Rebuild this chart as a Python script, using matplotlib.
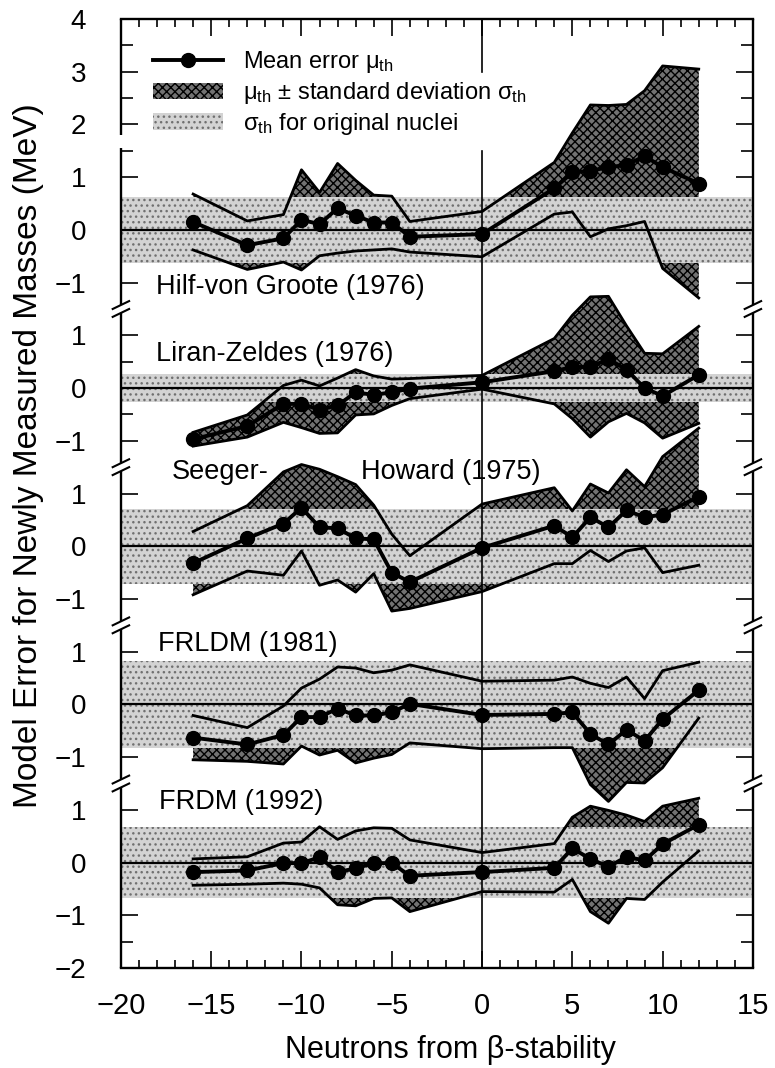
# Model error for newly measured masses, five mass models stacked on one axis
import numpy as np
import matplotlib.pyplot as plt
from matplotlib.lines import Line2D
from matplotlib.patches import Patch

plt.rcParams['font.family'] = ['Liberation Sans', 'DejaVu Sans']
plt.rcParams['mathtext.fontset'] = 'custom'
plt.rcParams['mathtext.rm'] = 'Liberation Sans'
plt.rcParams['mathtext.it'] = 'Liberation Sans:italic'
plt.rcParams['hatch.linewidth'] = 1.0

# Data
neutrons = [-16, -13, -11, -10, -9, -8, -7, -6, -5, -4, 0, 4, 5, 6, 7, 8, 9, 10, 12]

hilf_mu = [0.15, -0.29, -0.16, 0.19, 0.11, 0.41, 0.27, 0.14, 0.14, -0.13, -0.08,
           0.79, 1.09, 1.12, 1.19, 1.23, 1.40, 1.19, 0.88]
hilf_sigma = [0.53, 0.46, 0.45, 0.95, 0.60, 0.85, 0.67, 0.52, 0.50, 0.29, 0.43,
              0.49, 0.75, 1.25, 1.17, 1.15, 1.24, 1.92, 2.17]
hilf_orig = 0.63

liran_mu = [-0.97, -0.72, -0.30, -0.30, -0.41, -0.33, -0.08, -0.13, -0.08, -0.01, 0.11,
            0.32, 0.40, 0.40, 0.55, 0.35, 0.00, -0.15, 0.25]
liran_sigma = [0.13, 0.21, 0.35, 0.45, 0.45, 0.52, 0.43, 0.36, 0.25, 0.19, 0.13,
               0.62, 0.98, 1.33, 1.19, 0.83, 0.66, 0.80, 0.92]
liran_orig = 0.26

seeger_mu = [-0.32, 0.15, 0.43, 0.73, 0.36, 0.34, 0.15, 0.13, -0.50, -0.68, -0.03,
             0.39, 0.17, 0.55, 0.36, 0.68, 0.55, 0.60, 0.94]
seeger_sigma = [0.60, 0.62, 0.98, 0.82, 1.10, 0.98, 1.02, 0.65, 0.73, 0.50, 0.83,
                0.72, 0.50, 0.63, 0.65, 0.77, 0.58, 1.10, 1.30]
seeger_orig = 0.71

frldm_mu = [-0.63, -0.76, -0.58, -0.24, -0.24, -0.08, -0.21, -0.21, -0.15, 0.01, -0.20,
            -0.18, -0.15, -0.56, -0.76, -0.48, -0.69, -0.28, 0.27]
frldm_sigma = [0.42, 0.32, 0.55, 0.55, 0.72, 0.79, 0.90, 0.81, 0.80, 0.74, 0.64,
               0.64, 0.67, 0.96, 1.08, 1.00, 0.80, 0.92, 0.53]
frldm_orig = 0.82

frdm_mu = [-0.18, -0.15, -0.01, -0.01, 0.10, -0.18, -0.11, -0.01, -0.01, -0.25, -0.18,
           -0.10, 0.27, 0.07, -0.08, 0.11, 0.04, 0.35, 0.72]
frdm_sigma = [0.25, 0.26, 0.38, 0.40, 0.58, 0.62, 0.71, 0.67, 0.66, 0.68, 0.37,
              0.46, 0.59, 1.00, 1.07, 0.79, 0.74, 0.72, 0.50]
frdm_orig = 0.67

panel_offsets = [12, 9, 6, 3, 0]
panel_ticks = [range(-1, 5), range(-1, 2), range(-1, 2), range(-1, 2), range(-2, 2)]
legend_labels = ['Mean error μ$_{\\rm th}$',
                 'μ$_{\\rm th}$ ± standard deviation σ$_{\\rm th}$',
                 'σ$_{\\rm th}$ for original nuclei']

# styles
DARK, DARK_HATCH, HATCH_DARK = '#727272', '#000000', 'xxxx'
LIGHT, LIGHT_HATCH, HATCH_LIGHT = '#d3d3d3', '#707070', '...'

fig = plt.figure(figsize=(7.75, 10.68), dpi=100)
ax = fig.add_axes([0.156, 0.0936, 0.8155, 0.8886])
ax.set_xlim(-20, 15)
ax.set_ylim(-2, 16)

x = np.array(neutrons)
models = [(hilf_mu, hilf_sigma, hilf_orig), (liran_mu, liran_sigma, liran_orig),
          (seeger_mu, seeger_sigma, seeger_orig), (frldm_mu, frldm_sigma, frldm_orig),
          (frdm_mu, frdm_sigma, frdm_orig)]

for (mu, sig, orig), off in zip(models, panel_offsets):
    mu = np.array(mu) + off
    sig = np.array(sig)
    ax.fill_between(x, mu - sig, mu + sig, facecolor=DARK, edgecolor=DARK_HATCH,
                    hatch=HATCH_DARK, linewidth=0, zorder=1)
    ax.axhspan(off - orig, off + orig, facecolor=LIGHT, edgecolor=LIGHT_HATCH,
               hatch=HATCH_LIGHT, linewidth=0, zorder=2)
    ax.axhline(off, color='k', lw=1.6, zorder=3)
    ax.plot(x, mu + sig, color='k', lw=2.0, zorder=4)
    ax.plot(x, mu - sig, color='k', lw=2.0, zorder=4)
    ax.plot(x, mu, color='k', lw=2.8, marker='o', ms=10, zorder=5)

# vertical line at beta-stability, interrupted by the legend text
ax.plot([0, 0], [15.0, 16], color='k', lw=1.2, zorder=3)
ax.plot([0, 0], [-2, 13.5], color='k', lw=1.2, zorder=3)

# panel labels
ax.text(-18.05, 10.92, 'Hilf-von Groote (1976)', fontsize=19.5, va='center')
ax.text(-18.05, 9.65, 'Liran-Zeldes (1976)', fontsize=19.5, va='center')
ax.text(-17.2, 7.41, 'Seeger-', fontsize=19.5, va='center')
ax.text(-6.7, 7.41, 'Howard (1975)', fontsize=19.5, va='center')
ax.text(-17.95, 4.15, 'FRLDM (1981)', fontsize=19.5, va='center')
ax.text(-17.9, 1.15, 'FRDM (1992)', fontsize=19.5, va='center')

# broken left/right spines
for s in ['left', 'right']:
    ax.spines[s].set_visible(False)
for s in ['top', 'bottom']:
    ax.spines[s].set_linewidth(1.7)
trans = ax.get_yaxis_transform()
breaks = [1.5, 4.5, 7.5, 10.5]
gap = 0.075
for xs, extra in [(0, [(13.55, 13.8)]), (1, [])]:
    gaps = [(b - gap, b + gap) for b in breaks] + extra
    edges = [-2] + [v for g in sorted(gaps) for v in g] + [16]
    for y0, y1 in zip(edges[::2], edges[1::2]):
        ax.plot([xs, xs], [y0, y1], color='k', lw=1.7, transform=trans,
                clip_on=False, zorder=6, solid_capstyle='butt')
    for b in breaks:
        for yc in (b - gap, b + gap):
            ax.plot([xs - 0.013, xs + 0.013], [yc - 0.075, yc + 0.075], color='k',
                    lw=1.5, transform=trans, clip_on=False, zorder=6)

# ticks
major, labels, minor = [], [], []
for off, vals in zip(panel_offsets, panel_ticks):
    vals = list(vals)
    for v in vals:
        major.append(off + v)
        labels.append(str(v).replace('-', '−'))
    for v in vals[:-1]:
        minor.append(off + v + 0.5)
ax.set_yticks(major)
ax.set_yticklabels(labels)
ax.set_yticks(minor, minor=True)
ax.set_xticks(range(-20, 16, 5))
ax.set_xticklabels([str(v).replace('-', '−') for v in range(-20, 16, 5)])
ax.set_xticks(range(-20, 16), minor=True)
ax.tick_params(axis='y', which='both', direction='in', left=True, right=True,
               width=1.2, labelsize=20, pad=25)
ax.tick_params(axis='y', which='major', length=12)
ax.tick_params(axis='y', which='minor', length=8.5)
ax.tick_params(axis='x', which='both', direction='in', top=True, bottom=True,
               width=1.2, labelsize=21, pad=17)
ax.tick_params(axis='x', which='major', length=12)
ax.tick_params(axis='x', which='minor', length=6)

ax.text(0.522, -0.086, 'Neutrons from β-stability', transform=ax.transAxes,
        fontsize=22, ha='center', va='center')
ax.text(-0.146, 0.54, 'Model Error for Newly Measured Masses (MeV)', transform=ax.transAxes,
        fontsize=24, rotation=90, ha='center', va='center')

handles = [Line2D([], [], color='k', lw=2.8, marker='o', ms=10),
           Patch(facecolor=DARK, edgecolor=DARK_HATCH, hatch=HATCH_DARK, linewidth=0),
           Patch(facecolor=LIGHT, edgecolor=LIGHT_HATCH, hatch=HATCH_LIGHT, linewidth=0)]
leg = ax.legend(handles, legend_labels, loc='upper left', bbox_to_anchor=(0.05, 0.968),
                frameon=False, fontsize=17, handlelength=3.0, handletextpad=0.85,
                labelspacing=0.2, borderpad=0, borderaxespad=0)
leg.set_zorder(7)

fig.savefig('out.png', dpi=100)
